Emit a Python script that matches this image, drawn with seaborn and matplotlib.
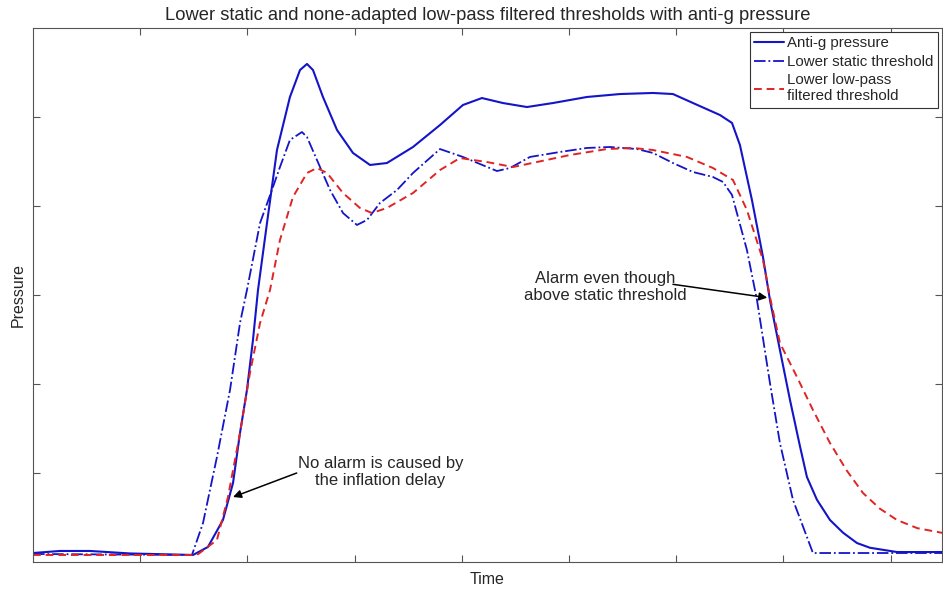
import numpy as np
import pandas as pd
import matplotlib
matplotlib.use("Agg")
import matplotlib.pyplot as plt
import seaborn as sns

# ---- data (arbitrary units) ----
anti_g_t = [0.000, 0.252, 0.532, 0.905, 1.493, 1.632, 1.772, 1.866, 1.931, 1.996,
            2.052, 2.099, 2.183, 2.276, 2.397, 2.491, 2.556, 2.612, 2.705, 2.836,
            2.985, 3.144, 3.302, 3.545, 3.797, 4.011, 4.188, 4.384, 4.608, 4.851,
            5.168, 5.476, 5.784, 5.970, 6.157, 6.409, 6.521, 6.595, 6.707, 6.810,
            6.875, 6.968, 7.062, 7.155, 7.220, 7.313, 7.435, 7.556, 7.687, 7.808,
            8.060, 8.489]
anti_g_p = [0.101, 0.124, 0.124, 0.096, 0.079, 0.169, 0.472, 0.888, 1.449, 1.933,
            2.494, 3.056, 3.809, 4.629, 5.225, 5.528, 5.596, 5.528, 5.225, 4.854,
            4.596, 4.461, 4.483, 4.663, 4.910, 5.135, 5.213, 5.157, 5.112, 5.157,
            5.225, 5.258, 5.270, 5.258, 5.157, 5.022, 4.933, 4.685, 4.067, 3.427,
            2.944, 2.382, 1.820, 1.300, 0.955, 0.700, 0.472, 0.330, 0.213, 0.160,
            0.112, 0.112]

static_t = [0.000, 1.483, 1.586, 1.716, 1.838, 1.931, 1.996, 2.118, 2.229, 2.304,
            2.397, 2.509, 2.556, 2.649, 2.771, 2.892, 3.022, 3.116, 3.237, 3.396,
            3.545, 3.797, 4.011, 4.328, 4.450, 4.636, 4.916, 5.168, 5.382, 5.634,
            5.784, 5.970, 6.157, 6.343, 6.437, 6.521, 6.660, 6.754, 6.875, 6.968,
            7.090, 7.220, 7.276, 8.489]
static_p = [0.090, 0.079, 0.438, 1.180, 1.933, 2.685, 3.056, 3.809, 4.180, 4.438,
            4.742, 4.831, 4.775, 4.517, 4.180, 3.921, 3.787, 3.843, 4.034, 4.180,
            4.371, 4.640, 4.551, 4.393, 4.427, 4.551, 4.607, 4.652, 4.663, 4.640,
            4.596, 4.483, 4.382, 4.326, 4.270, 4.124, 3.506, 2.944, 2.011, 1.337,
            0.697, 0.281, 0.101, 0.101]

lowpass_t = [0.000, 1.530, 1.716, 1.819, 1.931, 2.024, 2.118, 2.211, 2.304, 2.425,
             2.556, 2.649, 2.743, 2.892, 3.050, 3.162, 3.302, 3.545, 3.797, 3.983,
             4.235, 4.478, 4.701, 5.009, 5.354, 5.597, 5.784, 6.101, 6.343, 6.530,
             6.660, 6.810, 6.875, 6.968, 7.127, 7.276, 7.435, 7.590, 7.743, 7.900,
             8.060, 8.250, 8.489]
lowpass_p = [0.079, 0.079, 0.247, 0.730, 1.449, 2.124, 2.685, 3.056, 3.618, 4.101,
             4.371, 4.427, 4.371, 4.146, 3.978, 3.921, 3.978, 4.146, 4.404, 4.539,
             4.494, 4.438, 4.494, 4.573, 4.640, 4.652, 4.629, 4.551, 4.427, 4.292,
             3.955, 3.393, 2.978, 2.461, 2.079, 1.708, 1.337, 1.030, 0.775, 0.600,
             0.472, 0.380, 0.326]

series_names = ["Anti-g pressure", "Lower static threshold",
                "Lower low-pass\nfiltered threshold"]
title = "Lower static and none-adapted low-pass filtered thresholds with anti-g pressure"
x_label = "Time"
y_label = "Pressure"
note1 = "No alarm is caused by\nthe inflation delay"
note1_xy = (1.866, 0.73)      # arrow tip (data)
note1_text = (3.24, 1.01)     # text centre (data)
note2 = "Alarm even though\nabove static threshold"
note2_xy = (6.85, 2.97)
note2_text = (5.34, 3.09)

# ---- plot ----
sns.set_theme(style="white")
plt.rcParams["font.family"] = ["Liberation Sans", "DejaVu Sans"]

fig = plt.figure(figsize=(9.43, 5.90), dpi=100)
ax = fig.add_axes([33 / 943, 28 / 590, (942 - 33) / 943, (562 - 28) / 590])

blue = "#1414c8"
red = "#e02424"
df1 = pd.DataFrame({"t": anti_g_t, "p": anti_g_p})
df2 = pd.DataFrame({"t": static_t, "p": static_p})
df3 = pd.DataFrame({"t": lowpass_t, "p": lowpass_p})

sns.lineplot(data=df1, x="t", y="p", ax=ax, color=blue, lw=1.5, sort=False,
             estimator=None, label=series_names[0])
sns.lineplot(data=df2, x="t", y="p", ax=ax, color=blue, lw=1.3, sort=False,
             estimator=None, label=series_names[1], linestyle="-.")
sns.lineplot(data=df3, x="t", y="p", ax=ax, color=red, lw=1.4, sort=False,
             estimator=None, label=series_names[2], linestyle=(0, (4, 2.5)))

ax.set_xlim(0, 8.48)
ax.set_ylim(0, 6)
ax.set_xticks(np.arange(1, 9))
ax.set_yticks(np.arange(1, 6))
ax.set_xticklabels([])
ax.set_yticklabels([])
ax.tick_params(direction="in", length=5, width=0.8, color="#555555",
               top=True, right=True, bottom=True, left=True)
for s in ax.spines.values():
    s.set_color("#555555")
    s.set_linewidth(0.8)

ax.set_title(title, fontsize=13.2, pad=6)
ax.set_xlabel(x_label, fontsize=11.5, labelpad=4)
ax.set_ylabel(y_label, fontsize=11.5, labelpad=2)

leg = ax.legend(loc="upper right", fontsize=10.8, frameon=True, fancybox=False,
                edgecolor="#333333", framealpha=1, borderaxespad=0.25,
                handlelength=2.0, handletextpad=0.2, labelspacing=0.3,
                borderpad=0.3)
leg.get_frame().set_linewidth(0.8)

arrow = dict(arrowstyle="-|>", color="black", lw=1.1, mutation_scale=12,
             shrinkA=0, shrinkB=0)
ax.annotate("", xy=note1_xy, xytext=(2.46, 1.00), arrowprops=arrow)
ax.text(*note1_text, note1, ha="center", va="center", fontsize=12,
        linespacing=1.15)
ax.annotate("", xy=note2_xy, xytext=(5.97, 3.12), arrowprops=arrow)
ax.text(*note2_text, note2, ha="center", va="center", fontsize=12,
        linespacing=1.15)

fig.savefig("out.png", dpi=100)
